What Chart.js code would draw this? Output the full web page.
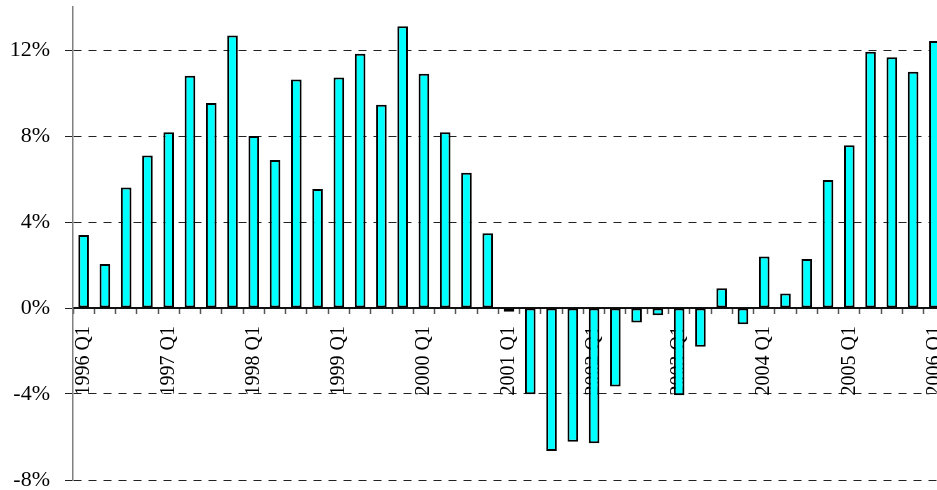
<!DOCTYPE html>
<html>
<head>
<meta charset="utf-8">
<script src="https://cdn.jsdelivr.net/npm/chart.js@4/dist/chart.umd.min.js"></script>
<style>
  html, body { margin: 0; padding: 0; background: #fff; overflow: hidden; }
  #wrap { width: 937px; height: 490px; overflow: hidden; }
  canvas { display: block; }
</style>
</head>
<body>
<div id="wrap"><canvas id="c" width="945" height="490"></canvas></div>
<script>
// Quarterly growth rate, 1996 Q1 to 2006 Q1 (percent)
const quarters = [];
for (let y = 1996; y <= 2006; y++) {
  for (let q = 1; q <= 4; q++) {
    if (y === 2006 && q > 1) break;
    quarters.push(y + ' Q' + q);
  }
}
const growth = [
  3.40, 2.05, 5.61, 7.09,
  8.17, 10.80, 9.53, 12.68,
  8.00, 6.88, 10.63, 5.53,
  10.72, 11.83, 9.45, 13.10,
  10.89, 8.17, 6.29, 3.48,
  -0.17, -4.01, -6.65, -6.22,
  -6.29, -3.65, -0.67, -0.34,
  -4.06, -1.80, 0.92, -0.76,
  2.39, 0.68, 2.28, 5.95,
  7.57, 11.92, 11.66, 10.99,
  12.42
];
const yTicks = [-8, -4, 0, 4, 8, 12];
const yMin = -8;
const yMax = 14;

const serif = "'Liberation Serif', 'Times New Roman', serif";

new Chart(document.getElementById('c'), {
  type: 'bar',
  data: {
    labels: quarters,
    datasets: [{
      data: growth,
      backgroundColor: '#00FFFF',
      borderColor: '#000000',
      borderWidth: 2,
      borderSkipped: false,
      barPercentage: 0.5,
      categoryPercentage: 1.0
    }]
  },
  options: {
    responsive: false,
    animation: false,
    layout: { padding: { top: 7, bottom: 10, left: 0, right: 0 } },
    plugins: { legend: { display: false }, tooltip: { enabled: false } },
    scales: {
      x: {
        type: 'category',
        position: { y: 0 },
        offset: true,
        z: 1,
        grid: {
          display: true,
          offset: true,
          drawOnChartArea: false,
          drawTicks: true,
          tickLength: 5,
          tickColor: '#555',
          tickWidth: 1.5
        },
        border: { display: true, color: '#111', width: 2 },
        ticks: {
          autoSkip: false,
          minRotation: 90,
          maxRotation: 90,
          padding: 13,
          color: '#000',
          font: { family: serif, size: 20 },
          callback: function (v, i) { return i % 4 === 0 ? quarters[i] : ''; }
        },
        afterFit: function (s) { s.paddingLeft = 0; s.paddingRight = 0; }
      },
      y: {
        min: yMin,
        max: yMax,
        afterBuildTicks: function (s) { s.ticks = yTicks.map(v => ({ value: v })); },
        afterFit: function (s) { s.width = 73; s.paddingTop = 0; s.paddingBottom = 0; },
        grid: {
          color: ctx => (ctx.tick && ctx.tick.value === 0) ? 'rgba(0,0,0,0)' : '#222',
          lineWidth: 1,
          tickLength: 8,
          tickColor: '#222',
          tickWidth: 1
        },
        border: {
          display: true,
          color: '#808080',
          width: 1.5,
          dash: ctx => (ctx.tick ? [8, 7] : [])
        },
        ticks: {
          padding: 15,
          color: '#000',
          font: { family: serif, size: 22 },
          callback: v => v + '%'
        }
      }
    }
  }
});
</script>
</body>
</html>
